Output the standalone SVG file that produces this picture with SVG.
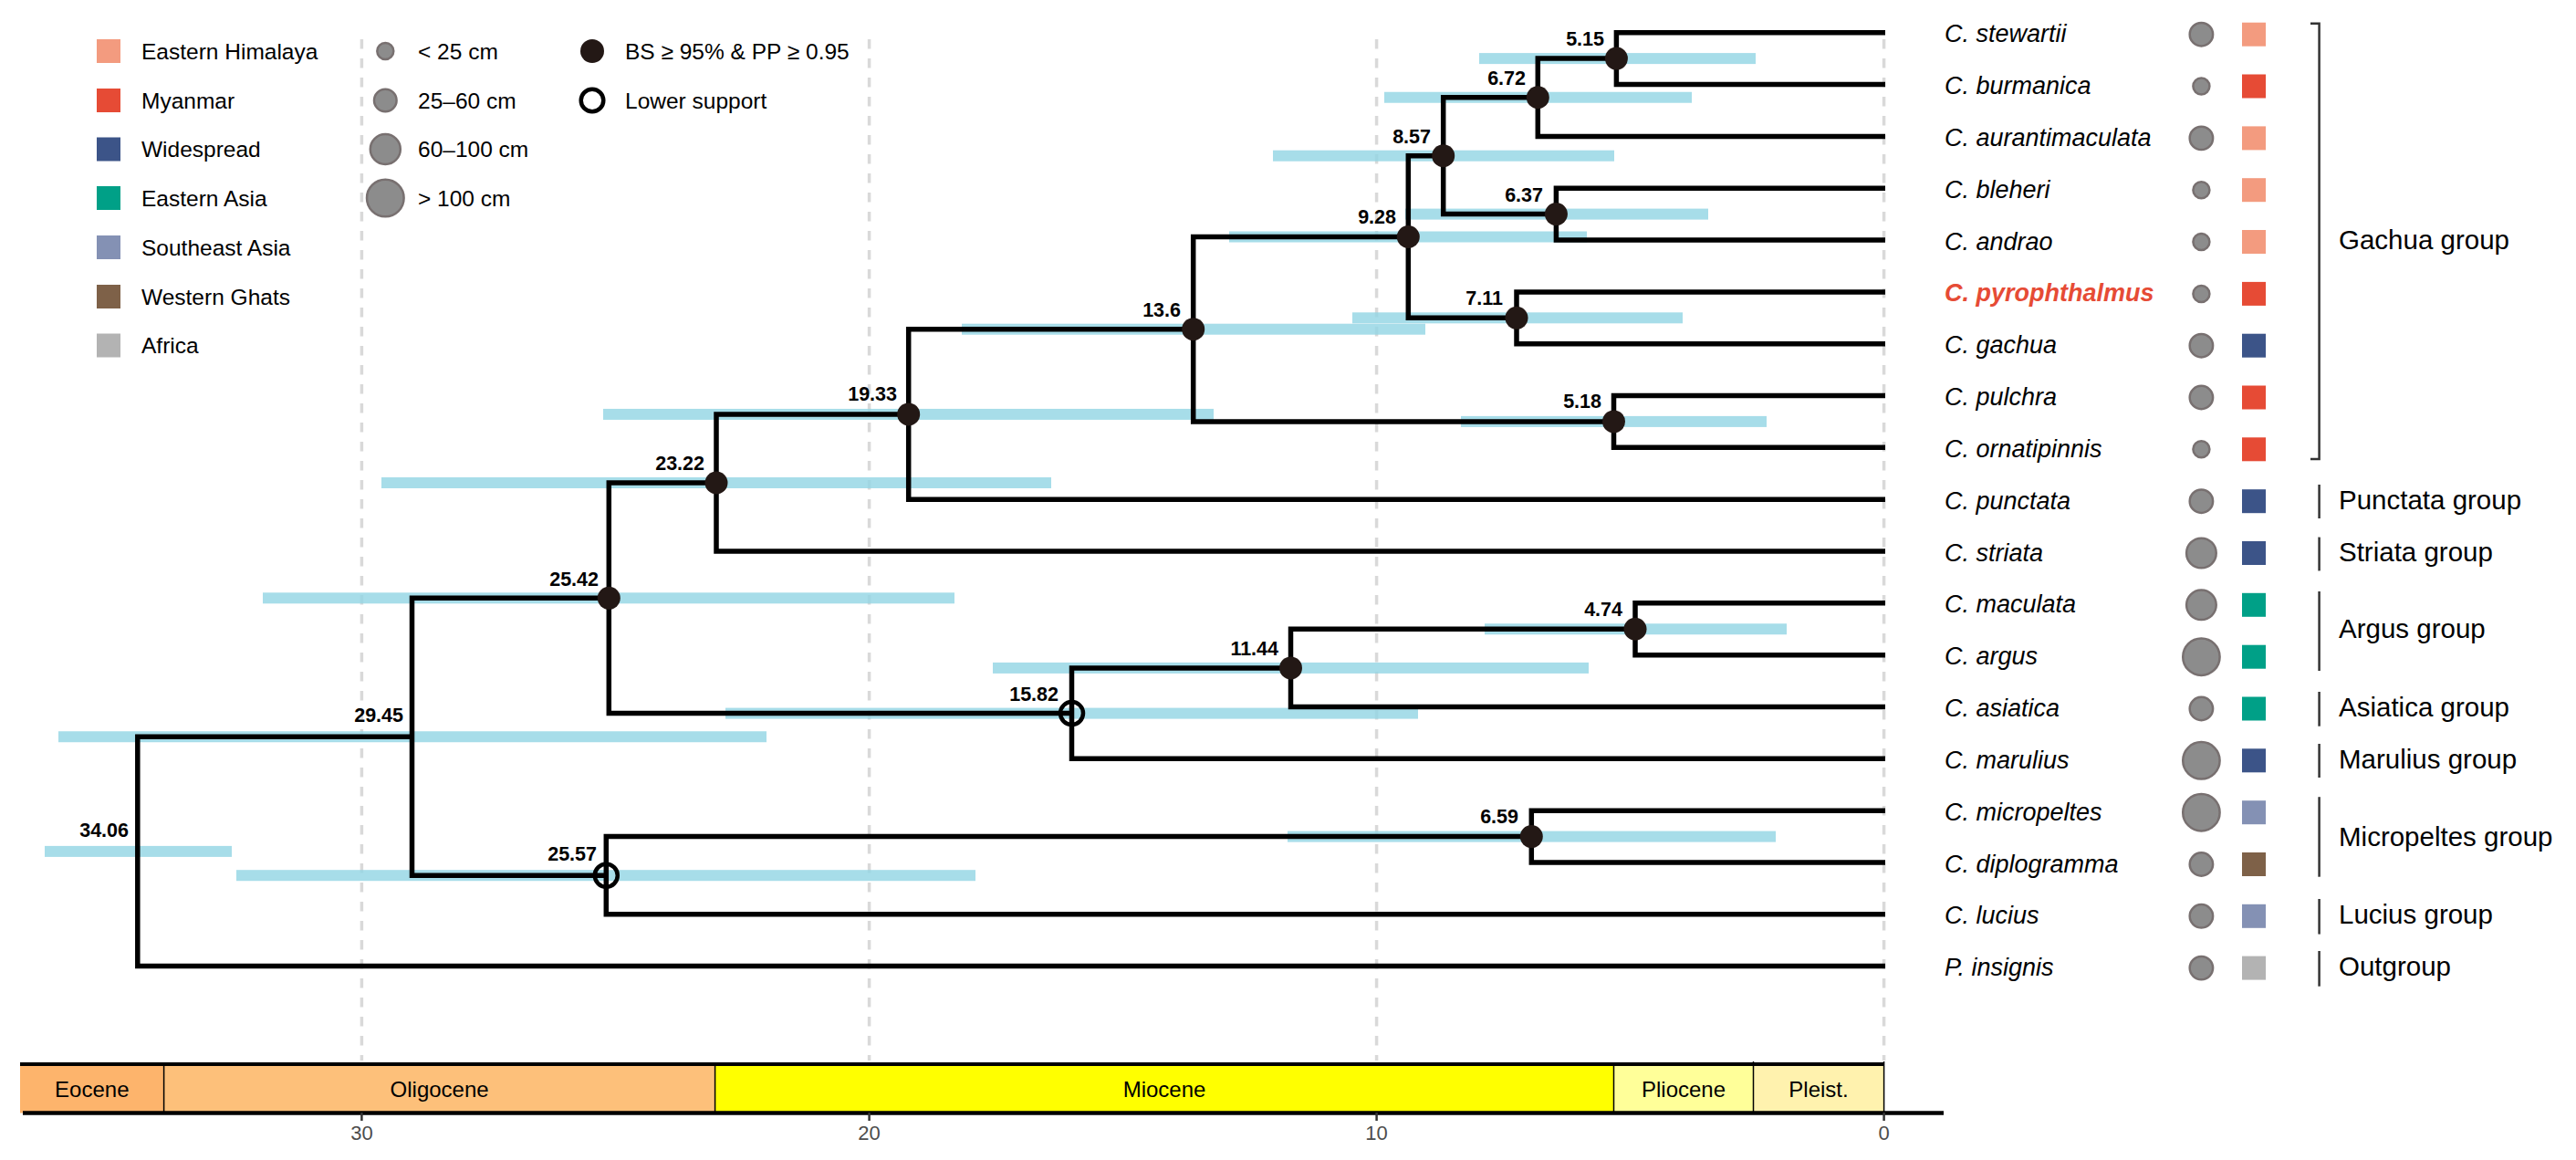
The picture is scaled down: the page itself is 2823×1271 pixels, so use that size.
<svg xmlns="http://www.w3.org/2000/svg" width="2823" height="1271" viewBox="0 0 2823 1271">
<style>
text{font-family:"Liberation Sans",Arial,Helvetica,sans-serif;fill:#000}
.grid{stroke:#D9D9D9;stroke-width:3.5;stroke-dasharray:10.5 10.5;fill:none}
.hpd{fill:#91D4E4;opacity:0.8}
.br{fill:none;stroke:#000;stroke-width:5.5;stroke-linejoin:miter;stroke-linecap:butt}
.sup{fill:#231815}
.low{fill:none;stroke:#000;stroke-width:4.5}
.age{font-size:21.5px;font-weight:bold;text-anchor:end}
.tax{font-size:27px;font-style:italic}
.sz{fill:#8C8C8C;stroke:#787070;stroke-width:2.5}
.grp{font-size:29.5px}
.gl{stroke:#333;stroke-width:2.5;fill:none}
.leg{font-size:24.5px}
.ep{font-size:24px;text-anchor:middle}
.tk{font-size:22px;text-anchor:middle;fill:#4D4D4D}
.EH{fill:#F39B7F}.MY{fill:#E64B35}.WS{fill:#3C5488}.EA{fill:#00A087}.SEA{fill:#8491B4}.WG{fill:#7E6148}.AF{fill:#B3B3B3}
</style>

<g id="gridlines">
<line class="grid" x1="396.4" y1="43" x2="396.4" y2="1162"/>
<line class="grid" x1="952.6" y1="43" x2="952.6" y2="1162"/>
<line class="grid" x1="1508.6" y1="43" x2="1508.6" y2="1162"/>
<line class="grid" x1="2064.6" y1="43" x2="2064.6" y2="1162"/>
</g>

<g id="hpd-bars">
<rect class="hpd" x="1621" y="58.1" width="303" height="12"/>
<rect class="hpd" x="1517" y="100.75" width="337" height="12"/>
<rect class="hpd" x="1395" y="164.7" width="374" height="12"/>
<rect class="hpd" x="1540" y="228.6" width="332" height="12"/>
<rect class="hpd" x="1347" y="253.5" width="392" height="12"/>
<rect class="hpd" x="1482" y="342.3" width="362" height="12"/>
<rect class="hpd" x="1054" y="354.7" width="508" height="12"/>
<rect class="hpd" x="1601" y="455.9" width="335" height="12"/>
<rect class="hpd" x="661" y="447.95" width="669" height="12"/>
<rect class="hpd" x="418" y="523" width="734" height="12"/>
<rect class="hpd" x="1627" y="683.25" width="331" height="12"/>
<rect class="hpd" x="1088" y="725.9" width="653" height="12"/>
<rect class="hpd" x="795" y="775.6" width="759" height="12"/>
<rect class="hpd" x="288" y="649.3" width="758" height="12"/>
<rect class="hpd" x="1411" y="910.6" width="535" height="12"/>
<rect class="hpd" x="259" y="953.2" width="810" height="12"/>
<rect class="hpd" x="64" y="801.25" width="776" height="12"/>
<rect class="hpd" x="49" y="926.9" width="205" height="12"/>
</g>

<g id="connectors">
<path class="br" d="M2066 35.7H1771.4V92.5H2066"/>
<path class="br" d="M1771.4 64.1H1685.3V149.4H2066"/>
<path class="br" d="M2066 206.2H1705.4V263H2066"/>
<path class="br" d="M1685.3 106.75H1581.7V234.6H1705.4"/>
<path class="br" d="M2066 319.9H1662V376.7H2066"/>
<path class="br" d="M1581.7 170.7H1543.3V348.3H1662"/>
<path class="br" d="M2066 433.5H1768.5V490.3H2066"/>
<path class="br" d="M1543.3 259.5H1307.7V461.9H1768.5"/>
<path class="br" d="M1307.7 360.7H995.7V547.2H2066"/>
<path class="br" d="M995.7 453.95H785V604H2066"/>
<path class="br" d="M2066 660.8H1792V717.7H2066"/>
<path class="br" d="M1792 689.25H1414.5V774.5H2066"/>
<path class="br" d="M1414.5 731.9H1174.5V831.3H2066"/>
<path class="br" d="M785 529H667.3V781.6H1174.5"/>
<path class="br" d="M2066 888.2H1678.3V945H2066"/>
<path class="br" d="M1678.3 916.6H664.3V1001.8H2066"/>
<path class="br" d="M667.3 655.3H451.5V959.2H664.3"/>
<path class="br" d="M451.5 807.25H150.8V1058.6H2066"/>
</g>

<g id="nodes">
<g id="n515"><circle class="sup" cx="1771.4" cy="64.1" r="12.5"/><text class="age" x="1758" y="50">5.15</text></g>
<g id="n672"><circle class="sup" cx="1685.3" cy="106.75" r="12.5"/><text class="age" x="1672" y="93">6.72</text></g>
<g id="n637"><circle class="sup" cx="1705.4" cy="234.6" r="12.5"/><text class="age" x="1691" y="221">6.37</text></g>
<g id="n857"><circle class="sup" cx="1581.7" cy="170.7" r="12.5"/><text class="age" x="1568" y="157">8.57</text></g>
<g id="n711"><circle class="sup" cx="1662" cy="348.3" r="12.5"/><text class="age" x="1647" y="334">7.11</text></g>
<g id="n928"><circle class="sup" cx="1543.3" cy="259.5" r="12.5"/><text class="age" x="1530" y="245">9.28</text></g>
<g id="n518"><circle class="sup" cx="1768.5" cy="461.9" r="12.5"/><text class="age" x="1755" y="447">5.18</text></g>
<g id="n136"><circle class="sup" cx="1307.7" cy="360.7" r="12.5"/><text class="age" x="1294" y="347">13.6</text></g>
<g id="n1933"><circle class="sup" cx="995.7" cy="453.95" r="12.5"/><text class="age" x="983" y="439">19.33</text></g>
<g id="n2322"><circle class="sup" cx="785" cy="529" r="12.5"/><text class="age" x="772" y="515">23.22</text></g>
<g id="n474"><circle class="sup" cx="1792" cy="689.25" r="12.5"/><text class="age" x="1778" y="675">4.74</text></g>
<g id="n1144"><circle class="sup" cx="1414.5" cy="731.9" r="12.5"/><text class="age" x="1401" y="718">11.44</text></g>
<g id="n1582"><circle class="low" cx="1174.5" cy="781.6" r="12.5"/><text class="age" x="1160" y="768">15.82</text></g>
<g id="n2542"><circle class="sup" cx="667.3" cy="655.3" r="12.5"/><text class="age" x="656" y="642">25.42</text></g>
<g id="n659"><circle class="sup" cx="1678.3" cy="916.6" r="12.5"/><text class="age" x="1664" y="902">6.59</text></g>
<g id="n2557"><circle class="low" cx="664.3" cy="959.2" r="12.5"/><text class="age" x="654" y="943">25.57</text></g>
<g id="n2945"><text class="age" x="442" y="791">29.45</text></g>
<g id="n3406"><text class="age" x="141" y="917">34.06</text></g>
</g>

<g id="tips">
<g id="t-stewartii"><text class="tax" x="2131" y="46.2">C. stewartii</text><circle class="sz" cx="2412.4" cy="37.7" r="12.7"/><rect class="EH" x="2457" y="24.7" width="26" height="26"/></g>
<g id="t-burmanica"><text class="tax" x="2131" y="103">C. burmanica</text><circle class="sz" cx="2412.4" cy="94.5" r="9"/><rect class="MY" x="2457" y="81.5" width="26" height="26"/></g>
<g id="t-aurantimaculata"><text class="tax" x="2131" y="159.9">C. aurantimaculata</text><circle class="sz" cx="2412.4" cy="151.4" r="12.7"/><rect class="EH" x="2457" y="138.4" width="26" height="26"/></g>
<g id="t-bleheri"><text class="tax" x="2131" y="216.7">C. bleheri</text><circle class="sz" cx="2412.4" cy="208.2" r="9"/><rect class="EH" x="2457" y="195.2" width="26" height="26"/></g>
<g id="t-andrao"><text class="tax" x="2131" y="273.5">C. andrao</text><circle class="sz" cx="2412.4" cy="265" r="9"/><rect class="EH" x="2457" y="252" width="26" height="26"/></g>
<g id="t-pyrophthalmus"><text class="tax" x="2131" y="330.4" style="font-weight:bold;fill:#E64B35">C. pyrophthalmus</text><circle class="sz" cx="2412.4" cy="321.9" r="9"/><rect class="MY" x="2457" y="308.9" width="26" height="26"/></g>
<g id="t-gachua"><text class="tax" x="2131" y="387.2">C. gachua</text><circle class="sz" cx="2412.4" cy="378.7" r="12.7"/><rect class="WS" x="2457" y="365.7" width="26" height="26"/></g>
<g id="t-pulchra"><text class="tax" x="2131" y="444">C. pulchra</text><circle class="sz" cx="2412.4" cy="435.5" r="12.7"/><rect class="MY" x="2457" y="422.5" width="26" height="26"/></g>
<g id="t-ornatipinnis"><text class="tax" x="2131" y="500.8">C. ornatipinnis</text><circle class="sz" cx="2412.4" cy="492.3" r="9"/><rect class="MY" x="2457" y="479.3" width="26" height="26"/></g>
<g id="t-punctata"><text class="tax" x="2131" y="557.7">C. punctata</text><circle class="sz" cx="2412.4" cy="549.2" r="12.7"/><rect class="WS" x="2457" y="536.2" width="26" height="26"/></g>
<g id="t-striata"><text class="tax" x="2131" y="614.5">C. striata</text><circle class="sz" cx="2412.4" cy="606" r="16.3"/><rect class="WS" x="2457" y="593" width="26" height="26"/></g>
<g id="t-maculata"><text class="tax" x="2131" y="671.3">C. maculata</text><circle class="sz" cx="2412.4" cy="662.8" r="16.3"/><rect class="EA" x="2457" y="649.8" width="26" height="26"/></g>
<g id="t-argus"><text class="tax" x="2131" y="728.2">C. argus</text><circle class="sz" cx="2412.4" cy="719.7" r="20.2"/><rect class="EA" x="2457" y="706.7" width="26" height="26"/></g>
<g id="t-asiatica"><text class="tax" x="2131" y="785">C. asiatica</text><circle class="sz" cx="2412.4" cy="776.5" r="12.7"/><rect class="EA" x="2457" y="763.5" width="26" height="26"/></g>
<g id="t-marulius"><text class="tax" x="2131" y="841.8">C. marulius</text><circle class="sz" cx="2412.4" cy="833.3" r="20.2"/><rect class="WS" x="2457" y="820.3" width="26" height="26"/></g>
<g id="t-micropeltes"><text class="tax" x="2131" y="898.7">C. micropeltes</text><circle class="sz" cx="2412.4" cy="890.2" r="20.2"/><rect class="SEA" x="2457" y="877.2" width="26" height="26"/></g>
<g id="t-diplogramma"><text class="tax" x="2131" y="955.5">C. diplogramma</text><circle class="sz" cx="2412.4" cy="947" r="12.7"/><rect class="WG" x="2457" y="934" width="26" height="26"/></g>
<g id="t-lucius"><text class="tax" x="2131" y="1012.3">C. lucius</text><circle class="sz" cx="2412.4" cy="1003.8" r="12.7"/><rect class="SEA" x="2457" y="990.8" width="26" height="26"/></g>
<g id="t-insignis"><text class="tax" x="2131" y="1069.1">P. insignis</text><circle class="sz" cx="2412.4" cy="1060.6" r="12.7"/><rect class="AF" x="2457" y="1047.6" width="26" height="26"/></g>
</g>

<g id="clades">
<path class="gl" d="M2532 25.7H2541.6V502.9H2532"/><text class="grp" x="2563" y="272.5">Gachua group</text>
<line class="gl" x1="2541.6" y1="531" x2="2541.6" y2="568"/><text class="grp" x="2563" y="557.5">Punctata group</text>
<line class="gl" x1="2541.6" y1="588.6" x2="2541.6" y2="625.4"/><text class="grp" x="2563" y="614.5">Striata group</text>
<line class="gl" x1="2541.6" y1="648" x2="2541.6" y2="735"/><text class="grp" x="2563" y="699">Argus group</text>
<line class="gl" x1="2541.6" y1="758" x2="2541.6" y2="795.7"/><text class="grp" x="2563" y="785">Asiatica group</text>
<line class="gl" x1="2541.6" y1="815" x2="2541.6" y2="852"/><text class="grp" x="2563" y="841.8">Marulius group</text>
<line class="gl" x1="2541.6" y1="873.2" x2="2541.6" y2="960.7"/><text class="grp" x="2563" y="926.8">Micropeltes group</text>
<line class="gl" x1="2541.6" y1="985" x2="2541.6" y2="1023.6"/><text class="grp" x="2563" y="1012.3">Lucius group</text>
<line class="gl" x1="2541.6" y1="1042" x2="2541.6" y2="1080.7"/><text class="grp" x="2563" y="1069.1">Outgroup</text>
</g>

<g id="legend">
<rect class="EH" x="106" y="43" width="26" height="26"/><text class="leg" x="155" y="64.5">Eastern Himalaya</text>
<rect class="MY" x="106" y="97" width="26" height="26"/><text class="leg" x="155" y="118.5">Myanmar</text>
<rect class="WS" x="106" y="150.5" width="26" height="26"/><text class="leg" x="155" y="172">Widespread</text>
<rect class="EA" x="106" y="204" width="26" height="26"/><text class="leg" x="155" y="225.5">Eastern Asia</text>
<rect class="SEA" x="106" y="258" width="26" height="26"/><text class="leg" x="155" y="279.5">Southeast Asia</text>
<rect class="WG" x="106" y="312" width="26" height="26"/><text class="leg" x="155" y="333.5">Western Ghats</text>
<rect class="AF" x="106" y="365.5" width="26" height="26"/><text class="leg" x="155" y="387">Africa</text>
<circle class="sz" cx="422.3" cy="56" r="9"/><text class="leg" x="458" y="64.5">&lt; 25 cm</text>
<circle class="sz" cx="422.3" cy="110" r="12.3"/><text class="leg" x="458" y="118.5">25–60 cm</text>
<circle class="sz" cx="422.3" cy="163.5" r="16.5"/><text class="leg" x="458" y="172">60–100 cm</text>
<circle class="sz" cx="422.3" cy="217" r="20.3"/><text class="leg" x="458" y="225.5">&gt; 100 cm</text>
<circle class="sup" cx="649" cy="56" r="13"/><text class="leg" x="685" y="64.5">BS ≥ 95% &amp; PP ≥ 0.95</text>
<circle class="low" cx="649" cy="110" r="12.3"/><text class="leg" x="685" y="118.5">Lower support</text>
</g>

<g id="timescale">
<rect x="22" y="1166" width="157.6" height="53.5" fill="#FDB46C"/>
<rect x="179.6" y="1166" width="604" height="53.5" fill="#FDC07A"/>
<rect x="783.6" y="1166" width="984.9" height="53.5" fill="#FFFF00"/>
<rect x="1768.5" y="1166" width="153" height="53.5" fill="#FFFF99"/>
<rect x="1921.5" y="1166" width="143.1" height="53.5" fill="#FFF2AE"/>
<g stroke="#000" stroke-width="1.5">
<line x1="179.6" y1="1166" x2="179.6" y2="1219.5"/>
<line x1="783.6" y1="1166" x2="783.6" y2="1219.5"/>
<line x1="1768.5" y1="1166" x2="1768.5" y2="1219.5"/>
<line x1="1921.5" y1="1163" x2="1921.5" y2="1219.5"/>
<line x1="2064.6" y1="1163" x2="2064.6" y2="1219.5"/>
</g>
<line x1="22" y1="1166" x2="2064.6" y2="1166" stroke="#000" stroke-width="4"/>
<line x1="25" y1="1219.5" x2="2130" y2="1219.5" stroke="#000" stroke-width="4.5"/>
<text class="ep" x="100.8" y="1202">Eocene</text>
<text class="ep" x="481.6" y="1202">Oligocene</text>
<text class="ep" x="1276" y="1202">Miocene</text>
<text class="ep" x="1845" y="1202">Pliocene</text>
<text class="ep" x="1993" y="1202">Pleist.</text>
<g stroke="#333" stroke-width="2.5">
<line x1="396.4" y1="1219" x2="396.4" y2="1228"/>
<line x1="952.6" y1="1219" x2="952.6" y2="1228"/>
<line x1="1508.6" y1="1219" x2="1508.6" y2="1228"/>
<line x1="2064.6" y1="1219" x2="2064.6" y2="1228"/>
</g>
<text class="tk" x="396.4" y="1249">30</text>
<text class="tk" x="952.6" y="1249">20</text>
<text class="tk" x="1508.6" y="1249">10</text>
<text class="tk" x="2064.6" y="1249">0</text>
</g>
</svg>
